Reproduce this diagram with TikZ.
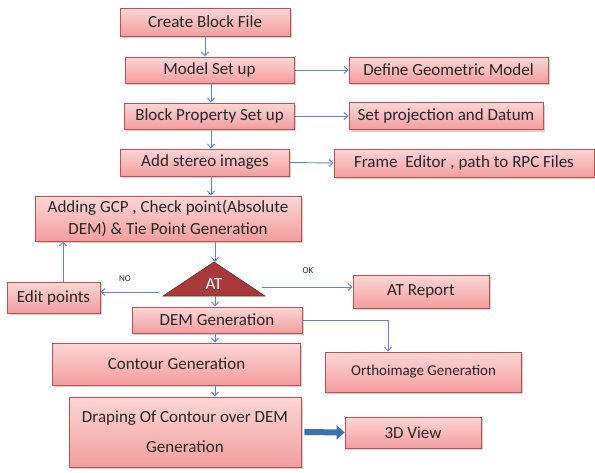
\documentclass[tikz,border=0pt]{standalone}
\usepackage{fontspec}
\setmainfont{Carlito}
\usetikzlibrary{arrows.meta,shadows,calc}
\definecolor{boxborder}{HTML}{C0504D}
\definecolor{boxtop}{HTML}{FCD6D6}
\definecolor{boxbot}{HTML}{F29E9D}
\definecolor{arrblue}{HTML}{5B8BC7}
\definecolor{thickblue}{HTML}{3F71B0}
\definecolor{trifill}{HTML}{A8393A}
\definecolor{triborder}{HTML}{7F2625}
\definecolor{txt}{HTML}{262626}
\tikzset{
  pbox/.style={draw=boxborder, line width=0.8pt, top color=boxtop, bottom color=boxbot,
    drop shadow={opacity=0.35, shadow xshift=1.5pt, shadow yshift=-2pt},
    inner sep=0pt, align=center, text=txt, font=\fontsize{17}{20}\selectfont},
  arr/.style={draw=arrblue, line width=0.9pt, -{Straight Barb[length=4pt,width=7pt]}},
  lbl/.style={font=\fontsize{9}{10}\selectfont, text=txt}
}
\begin{document}
\begin{tikzpicture}[x=1pt,y=-1pt]
\useasboundingbox[fill=white] (0,0) rectangle (595,472);
% main column
\node[pbox, minimum width=170pt, minimum height=28pt] (create) at (205,22) {Create Block File};
\node[pbox, minimum width=169pt, minimum height=26pt] (model) at (209.5,70) {Model Set up};
\node[pbox, minimum width=170pt, minimum height=26pt] (block) at (209.5,116) {Block Property Set up};
\node[pbox, minimum width=169pt, minimum height=27pt] (add) at (205,162.5) {Add stereo images};
\node[pbox, minimum width=266pt, minimum height=45pt, font=\fontsize{17}{22}\selectfont] (gcp) at (168,218.5) {Adding GCP , Check point(Absolute\\DEM) \& Tie Point Generation};
\node[pbox, minimum width=93pt, minimum height=31pt] (edit) at (53.5,297.5) {Edit points};
\node[pbox, minimum width=170pt, minimum height=26pt] (dem) at (217,320) {DEM Generation};
\node[pbox, minimum width=136pt, minimum height=33pt] (atrep) at (421,291.5) {AT Report};
\node[pbox, minimum width=248pt, minimum height=42pt] (contour) at (176.5,364) {Contour Generation};
\node[pbox, minimum width=196pt, minimum height=40pt, font=\fontsize{15}{18}\selectfont] (ortho) at (423.5,372) {Orthoimage Generation};
\node[pbox, minimum width=232pt, minimum height=70pt, font=\fontsize{17}{20}\selectfont] (drape) at (185,432) {Draping Of Contour over DEM\\[10pt]Generation};
\node[pbox, minimum width=136pt, minimum height=31pt] (view) at (413,432.5) {3D View};
% side boxes
\node[pbox, minimum width=199pt, minimum height=26pt] (define) at (448.5,70) {Define Geometric Model};
\node[pbox, minimum width=194pt, minimum height=27pt] (setp) at (446,116) {Set projection and Datum};
\node[pbox, minimum width=260pt, minimum height=28pt] (frame) at (464,163) {Frame\ \ Editor , path to RPC Files};
% triangle AT
\coordinate (atT) at (214,262);
\coordinate (atL) at (163,296);
\coordinate (atR) at (265,296);
\fill[trifill, draw=triborder, line width=0.6pt] (atT) -- (atR) -- (atL) -- cycle;
\node[text=white, font=\fontsize{17}{20}\selectfont] (at) at (214,284) {AT};
\coordinate (atB) at (214,296);
\coordinate (atLo) at (158,292);
\coordinate (atRo) at (262,287);
% columns
\coordinate (c0) at (205,0);
\coordinate (c1) at (211,0);
\coordinate (c2) at (215,0);
\coordinate (c3) at (63,0);
\coordinate (c4) at (388,0);
% vertical arrows
\draw[arr] (create.south -| c0) -- (model.north -| c0);
\draw[arr] (model.south -| c1) -- (block.north -| c1);
\draw[arr] (block.south -| c1) -- (add.north -| c1);
\draw[arr] (add.south -| c1) -- (gcp.north -| c1);
\draw[arr] (gcp.south -| c2) -- (atT -| c2);
\draw[arr] (atB -| c2) -- (dem.north -| c2);
\draw[arr] (dem.south -| c2) -- (contour.north -| c2);
\draw[arr] (contour.south -| c2) -- (drape.north -| c2);
% horizontal arrows
\draw[arr] (model.east) -- (define.west);
\draw[arr] (block.east) -- (setp.west);
\draw[arr] (add.east) -- (frame.west);
\draw[arr] (atLo) -- (atLo -| edit.east);
\draw[arr] (edit.north -| c3) -- (gcp.south -| c3);
\draw[arr] (atRo) -- (atRo -| atrep.west);
\draw[arr] (dem.east) -| (ortho.north -| c4);
\node[lbl] (no) at (125,279) {NO};
\node[lbl] (ok) at (308,271) {OK};
% thick arrow
\draw[thickblue, line width=6pt, -{Triangle[length=8pt,width=14pt]}] (drape.east) ++(3,0) -- (view.west);
\end{tikzpicture}
\end{document}
